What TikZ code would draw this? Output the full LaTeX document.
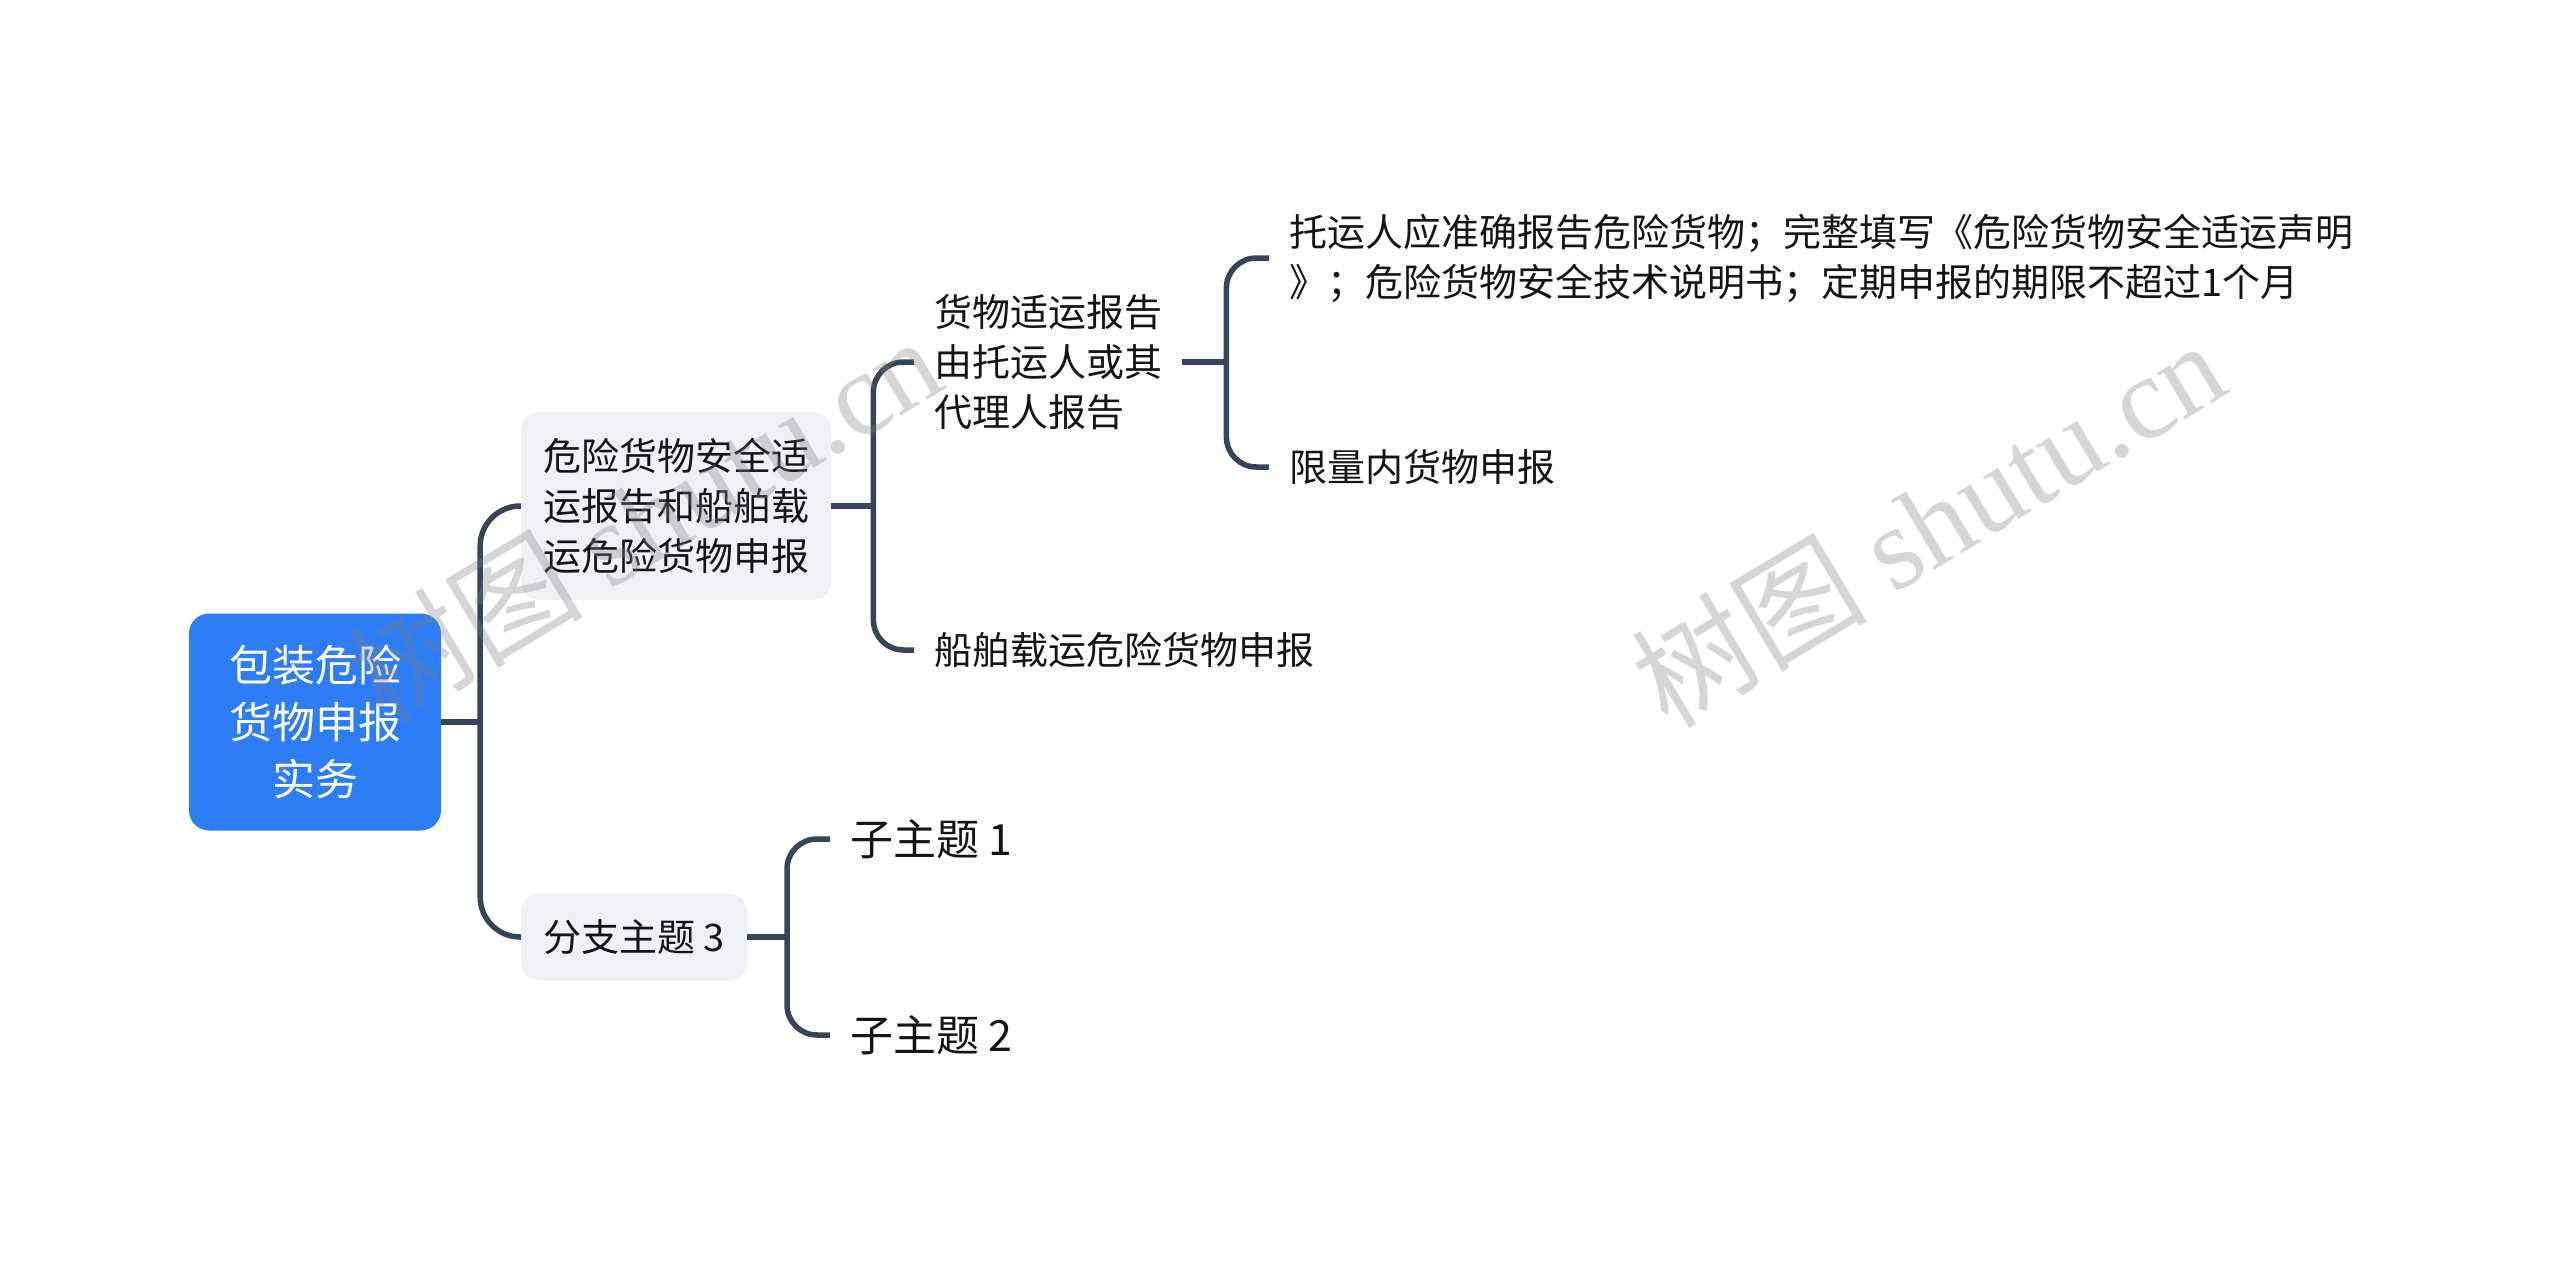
\documentclass[tikz,border=0pt]{standalone}
\usepackage{fontspec}
\setmainfont{Noto Sans CJK SC}
\newfontfamily\wmlatin{Liberation Serif}
\usetikzlibrary{calc}
\definecolor{rootblue}{RGB}{45,125,246}
\definecolor{topicgray}{RGB}{239,241,245}
\definecolor{linkcolor}{RGB}{53,69,90}
\definecolor{inkcolor}{RGB}{20,20,20}
\tikzset{
	x=1pt, y=-1pt,
	root/.style = {rectangle, rounded corners=20pt, fill=rootblue, text=white, align=center,
		font=\fontsize{43}{57}\selectfont, minimum width=252pt, minimum height=217pt},
	topic/.style = {rectangle, rounded corners=18pt, fill=topicgray, text=inkcolor, align=left,
		font=\fontsize{38}{50}\selectfont, inner xsep=22pt, inner ysep=26pt, anchor=west},
	leaf/.style = {text=inkcolor, align=left, font=\fontsize{38}{50}\selectfont,
		inner xsep=20pt, anchor=west},
	subleaf/.style = {leaf, font=\fontsize{43}{50}\selectfont},
	link/.style = {draw=linkcolor, line width=5.5pt},
	fork/.style = {link, rounded corners=#1},
	fork/.default = 30pt,
	wmark/.style = {text=gray, opacity=0.32, rotate=31, font=\fontsize{118}{118}\selectfont}
}

\begin{document}
\begin{tikzpicture}
	\useasboundingbox (0,0) rectangle (2560,1275);

	\node (root) [root] at (315,722) {包装危险\\货物申报\\实务};

	\node (safety) [topic] at (521,506) {危险货物安全适\\运报告和船舶载\\运危险货物申报};
	\node (branch) [topic] at (521,937) {分支主题 3};

	\node (fitrep) [leaf] at (914,362) {货物适运报告\\由托运人或其\\代理人报告};
	\node (shipdecl) [leaf] at (914,650) {船舶载运危险货物申报};

	\node (shipper) [leaf] at (1269,258) {托运人应准确报告危险货物；完整填写《危险货物安全适运声明\\》；危险货物安全技术说明书；定期申报的期限不超过1个月};
	\node (limited) [leaf] at (1269,467) {限量内货物申报};

	\node (sub1) [subleaf] at (830,839) {子主题 1};
	\node (sub2) [subleaf] at (830,1035) {子主题 2};

	% forks
	\coordinate (rootfork) at ($(root.east)+(39,0)$);
	\coordinate (safetyfork) at ($(safety.east)+(42,0)$);
	\coordinate (fitfork) at ($(fitrep.east)+(44,0)$);
	\coordinate (branchfork) at ($(branch.east)+(40,0)$);

	\draw[link] (root.east) -- (rootfork);
	\draw[fork=40pt] (rootfork) |- (safety.west);
	\draw[fork=40pt] (rootfork) |- (branch.west);

	\draw[link] (safety.east) -- (safetyfork);
	\draw[fork] (safetyfork) |- (fitrep.west);
	\draw[fork] (safetyfork) |- (shipdecl.west);

	\draw[link] (fitrep.east) -- (fitfork);
	\draw[fork] (fitfork) |- (shipper.west);
	\draw[fork] (fitfork) |- (limited.west);

	\draw[link] (branch.east) -- (branchfork);
	\draw[fork] (branchfork) |- (sub1.west);
	\draw[fork] (branchfork) |- (sub2.west);

	% watermark
	\node (wm1) [wmark] at (644,518) {树图 {\wmlatin shutu.cn}};
	\node (wm2) [wmark] at (1928,522) {树图 {\wmlatin shutu.cn}};
\end{tikzpicture}
\end{document}
